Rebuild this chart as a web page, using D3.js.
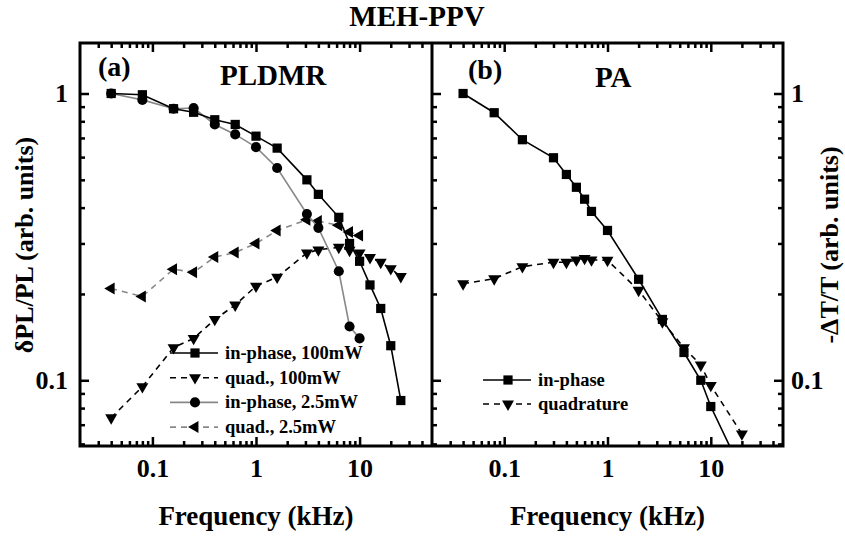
<!DOCTYPE html>
<html>
<head>
<meta charset="utf-8">
<script src="https://cdn.jsdelivr.net/npm/d3@7"></script>
<style>
body { margin: 0; background: #fff; }
text { font-family: "Liberation Serif", "Times New Roman", serif; font-weight: bold; fill: #000; }
</style>
</head>
<body>
<div id="wrapper"></div>
<script>
// panel (a) PLDMR, frequencies in kHz
const freq100 = [0.04, 0.08, 0.16, 0.25, 0.4, 0.63, 1, 1.6, 3.1, 4, 6.3, 8, 10, 12.6, 16, 20, 25]
const inPhase100 = [1.0, 0.99, 0.885, 0.86, 0.81, 0.78, 0.71, 0.645, 0.50, 0.445, 0.37, 0.30, 0.26, 0.215, 0.178, 0.132, 0.085]
const quad100 = [0.074, 0.095, 0.13, 0.14, 0.163, 0.183, 0.213, 0.229, 0.278, 0.285, 0.291, 0.284, 0.278, 0.268, 0.258, 0.245, 0.23]
const freq25 = [0.04, 0.08, 0.16, 0.25, 0.4, 0.63, 1, 1.6, 3.1, 4, 6.3, 8, 10]
const inPhase25 = [1.0, 0.95, 0.885, 0.89, 0.78, 0.72, 0.65, 0.55, 0.38, 0.34, 0.24, 0.154, 0.14]
const quad25 = [0.209, 0.196, 0.244, 0.238, 0.269, 0.279, 0.30, 0.333, 0.363, 0.359, 0.347, 0.329, 0.32]

// panel (b) PA
const freqPA = [0.04, 0.08, 0.15, 0.3, 0.4, 0.5, 0.6, 0.7, 1, 2, 3.4, 5.5, 8, 10, 20]
const inPhasePA = [1.0, 0.857, 0.69, 0.597, 0.522, 0.471, 0.428, 0.388, 0.333, 0.225, 0.163, 0.125, 0.1, 0.081, 0.048]
const quadPA = [0.217, 0.226, 0.249, 0.258, 0.258, 0.263, 0.266, 0.263, 0.262, 0.206, 0.16, 0.13, 0.113, 0.096, 0.065]

const xMajor = [0.1, 1, 10]
const yMajor = [0.1, 1]
const legendA = ["in-phase, 100mW", "quad., 100mW", "in-phase, 2.5mW", "quad., 2.5mW"]
const legendB = ["in-phase", "quadrature"]

const width = 845, height = 537
const plotTop = 43, plotBottom = 446
const aLeft = 80, mid = 432, bRight = 783

const svg = d3.select("#wrapper").append("svg")
    .attr("width", width)
    .attr("height", height)

const xA = d3.scaleLog().domain([0.02, 50]).range([aLeft, mid])
const xB = d3.scaleLog().domain([0.02, 50]).range([mid, bRight])
const y = d3.scaleLog().domain([0.059, 1.5]).range([plotBottom, plotTop])

// all tick positions (majors + minors) inside a domain
function logTicks(domain) {
    const out = []
    for (let e = -3; e <= 3; e++) {
        for (let m = 1; m <= 9; m++) {
            const v = +(m * Math.pow(10, e)).toPrecision(3)
            if (v >= domain[0] * 1.0001 && v <= domain[1] * 0.9999) out.push(v)
        }
    }
    return out
}
const isMajor = (v, majors) => majors.some(m => Math.abs(v - m) / m < 1e-6)
const xTicks = logTicks(xA.domain())
const yTicks = logTicks(y.domain())

function styleAxis(g, majors, horiz, sign, showLabels) {
    g.select(".domain").remove()
    g.selectAll(".tick line")
        .attr("stroke", "#000")
        .attr("stroke-width", 2.5)
        .attr(horiz ? "y2" : "x2", d => sign * (isMajor(d, majors) ? 9 : 5))
    g.selectAll(".tick text")
        .style("font-size", "26px")
        .text(d => (showLabels && isMajor(d, majors)) ? d3.format("~g")(d) : "")
}

// x axes
;[xA, xB].forEach(function(xs) {
    svg.append("g")
        .attr("transform", `translate(0,${plotBottom})`)
        .call(d3.axisBottom(xs).tickValues(xTicks).tickSize(0).tickPadding(13))
        .call(g => styleAxis(g, xMajor, true, -1, true))
    svg.append("g")
        .attr("transform", `translate(0,${plotTop})`)
        .call(d3.axisTop(xs).tickValues(xTicks).tickSize(0))
        .call(g => styleAxis(g, xMajor, true, 1, false))
})

// y axes: left of (a), left of (b) on the divider, right of (b)
svg.append("g")
    .attr("transform", `translate(${aLeft},0)`)
    .call(d3.axisLeft(y).tickValues(yTicks).tickSize(0).tickPadding(12))
    .call(g => styleAxis(g, yMajor, false, 1, true))
svg.append("g")
    .attr("transform", `translate(${mid},0)`)
    .call(d3.axisRight(y).tickValues(yTicks).tickSize(0))
    .call(g => styleAxis(g, yMajor, false, 1, false))
svg.append("g")
    .attr("transform", `translate(${bRight},0)`)
    .call(d3.axisRight(y).tickValues(yTicks).tickSize(0).tickPadding(8))
    .call(g => styleAxis(g, yMajor, false, -1, true))

// frame
svg.append("rect")
    .attr("x", aLeft).attr("y", plotTop)
    .attr("width", bRight - aLeft).attr("height", plotBottom - plotTop)
    .attr("fill", "none").attr("stroke", "#000").attr("stroke-width", 3)
svg.append("line")
    .attr("x1", mid).attr("x2", mid).attr("y1", plotTop).attr("y2", plotBottom)
    .attr("stroke", "#000").attr("stroke-width", 3)

// clip regions
const defs = svg.append("defs")
defs.append("clipPath").attr("id", "clipA").append("rect")
    .attr("x", aLeft).attr("y", plotTop).attr("width", mid - aLeft).attr("height", plotBottom - plotTop)
defs.append("clipPath").attr("id", "clipB").append("rect")
    .attr("x", mid).attr("y", plotTop).attr("width", bRight - mid).attr("height", plotBottom - plotTop)

const symSquare = d3.symbol().type(d3.symbolSquare).size(85)
const symCircle = d3.symbol().type(d3.symbolCircle).size(80)
const symTri = d3.symbol().type(d3.symbolTriangle).size(62)
const markers = {
    square: { path: symSquare(), rot: 0 },
    circle: { path: symCircle(), rot: 0 },
    down: { path: symTri(), rot: 180 },
    left: { path: symTri(), rot: -90 }
}

const series = [
    { xs: xA, clip: "clipA", f: freq100, v: quad100, color: "#000", dash: "6,5", marker: "down" },
    { xs: xA, clip: "clipA", f: freq25, v: quad25, color: "#888", dash: "6,5", marker: "left" },
    { xs: xA, clip: "clipA", f: freq25, v: inPhase25, color: "#888", dash: null, marker: "circle" },
    { xs: xA, clip: "clipA", f: freq100, v: inPhase100, color: "#000", dash: null, marker: "square" },
    { xs: xB, clip: "clipB", f: freqPA, v: quadPA, color: "#000", dash: "6,5", marker: "down" },
    { xs: xB, clip: "clipB", f: freqPA, v: inPhasePA, color: "#000", dash: null, marker: "square" }
]

series.forEach(function(s) {
    const pts = s.f.map((f, i) => ({ f: f, v: s.v[i] }))
    const g = svg.append("g").attr("clip-path", `url(#${s.clip})`)
    g.append("path")
        .datum(pts)
        .attr("fill", "none")
        .attr("stroke", s.color)
        .attr("stroke-width", 1.6)
        .attr("stroke-dasharray", s.dash)
        .attr("d", d3.line().x(d => s.xs(d.f)).y(d => y(d.v)))
    g.selectAll(".pt")
        .data(pts)
        .enter()
        .append("path")
            .attr("d", markers[s.marker].path)
            .attr("transform", d => `translate(${s.xs(d.f)},${y(d.v)}) rotate(${markers[s.marker].rot})`)
            .attr("fill", "#000")
})

// legends
function legend(items, styles, x0, y0, step) {
    items.forEach(function(label, i) {
        const st = styles[i], yy = y0 + i * step
        svg.append("line")
            .attr("x1", x0).attr("x2", x0 + 48).attr("y1", yy).attr("y2", yy)
            .attr("stroke", st.color).attr("stroke-width", 1.6)
            .attr("stroke-dasharray", st.dash)
        svg.append("path")
            .attr("d", markers[st.marker].path)
            .attr("transform", `translate(${x0 + 25},${yy}) rotate(${markers[st.marker].rot})`)
            .attr("fill", "#000")
        svg.append("text")
            .attr("x", x0 + 55).attr("y", yy + 6)
            .style("font-size", "18.5px")
            .text(label)
    })
}
legend(legendA, [series[3], series[0], series[2], series[1]], 170, 353, 24.7)
legend(legendB, [series[5], series[4]], 483, 380, 24)

// texts
svg.append("text").attr("x", 417).attr("y", 26).attr("text-anchor", "middle")
    .style("font-size", "29px").text("MEH-PPV")
svg.append("text").attr("x", 98).attr("y", 76).style("font-size", "28px").text("(a)")
svg.append("text").attr("x", 220).attr("y", 85).style("font-size", "29px").text("PLDMR")
svg.append("text").attr("x", 468).attr("y", 79).style("font-size", "28px").text("(b)")
svg.append("text").attr("x", 595).attr("y", 87).style("font-size", "29px").text("PA")
svg.append("text").attr("x", (aLeft + mid) / 2).attr("y", 525).attr("text-anchor", "middle")
    .style("font-size", "27px").text("Frequency (kHz)")
svg.append("text").attr("x", (mid + bRight) / 2).attr("y", 525).attr("text-anchor", "middle")
    .style("font-size", "27px").text("Frequency (kHz)")
svg.append("text").attr("transform", "translate(33,245) rotate(-90)").attr("text-anchor", "middle")
    .style("font-size", "26px").text("δPL/PL (arb. units)")
svg.append("text").attr("transform", "translate(838,245) rotate(-90)").attr("text-anchor", "middle")
    .style("font-size", "26px").text("-ΔT/T (arb. units)")
</script>
</body>
</html>
